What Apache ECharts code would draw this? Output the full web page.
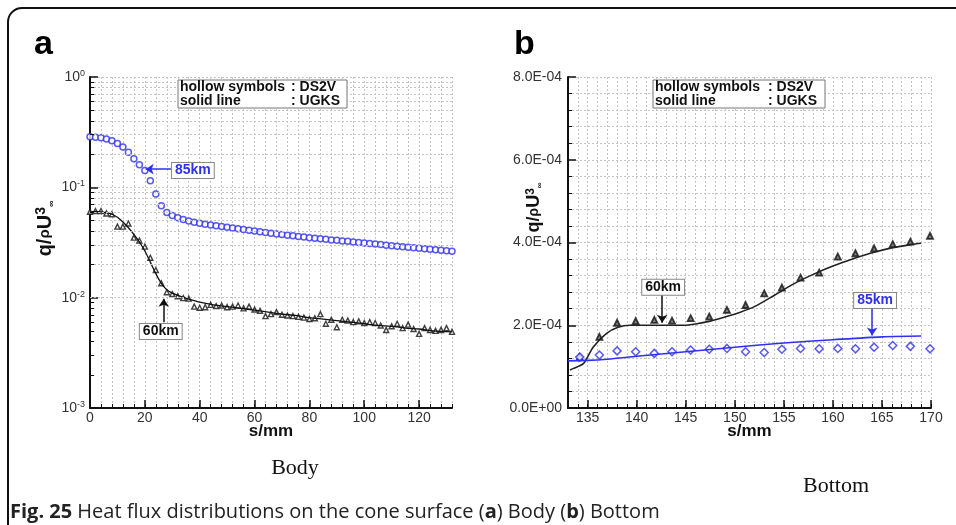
<!DOCTYPE html>
<html><head><meta charset="utf-8">
<script src="https://cdn.jsdelivr.net/npm/echarts@6/dist/echarts.min.js"></script>
<style>html,body{margin:0;padding:0;background:#fff}#c{width:956px;height:525px}</style>
</head><body><div id="c"></div>
<script>
// ---------- Panel (a) Body : s/mm and q/rhoU^3 (log) ----------
const bodyX = [0,2,4,6,8,10,12,14,16,18,20,22,24,26,28,30,32,34,36,38,40,42,44,46,48,50,52,54,56,58,60,62,64,66,68,70,72,74,76,78,80,82,84,86,88,90,92,94,96,98,100,102,104,106,108,110,112,114,116,118,120,122,124,126,128,130,132];
const body85DS2V = [0.287,0.285,0.281,0.274,0.264,0.250,0.232,0.208,0.182,0.160,0.142,0.115,0.087,0.068,0.059,0.0555,0.0530,0.0510,0.0495,0.0482,0.0472,0.0463,0.0456,0.0448,0.0441,0.0434,0.0427,0.0421,0.0414,0.0408,0.0402,0.0396,0.0389,0.0383,0.0378,0.0373,0.0368,0.0364,0.0359,0.0355,0.0350,0.0346,0.0342,0.0338,0.0334,0.0331,0.0327,0.0324,0.0320,0.0317,0.0313,0.0310,0.0306,0.0303,0.0299,0.0296,0.0292,0.0289,0.0286,0.0283,0.0280,0.0277,0.0274,0.0272,0.0269,0.0266,0.0263];
const body60DS2V = [0.060,0.061,0.061,0.058,0.057,0.044,0.044,0.047,0.035,0.033,0.029,0.023,0.0178,0.0135,0.0112,0.0108,0.0103,0.0099,0.0098,0.0083,0.0081,0.0082,0.0086,0.0084,0.0085,0.0082,0.0083,0.0085,0.0080,0.0083,0.0078,0.0076,0.0068,0.0071,0.0074,0.0070,0.0069,0.0068,0.0067,0.0066,0.0064,0.0065,0.0071,0.0058,0.0063,0.0054,0.0063,0.0062,0.0060,0.0061,0.0059,0.0060,0.0059,0.0056,0.0051,0.0055,0.0058,0.0053,0.0057,0.0052,0.0047,0.0053,0.0051,0.0050,0.0051,0.0053,0.0049];
const bodyLineX = [0,2,4,6,8,10,12,14,16,18,20,22,24,26,28,30,32,34,36,38,40,45,50,55,60,65,70,75,80,85,90,95,100,105,110,115,120,125,132];
const body60UGKS = [0.0600,0.0605,0.0600,0.0590,0.0570,0.0535,0.0485,0.0430,0.0375,0.0320,0.0265,0.0210,0.0165,0.0135,0.0118,0.0110,0.0105,0.0101,0.0097,0.0094,0.0091,0.0086,0.0083,0.0080,0.0077,0.0074,0.0071,0.0069,0.0066,0.0064,0.0062,0.0060,0.0058,0.0056,0.0055,0.0053,0.0052,0.0050,0.0049];
const bodyXTicks = [0,20,40,60,80,100,120];

// ---------- Panel (b) Bottom ----------
const bottomX = [134.2,136.2,138.0,139.9,141.8,143.6,145.5,147.4,149.2,151.1,153.0,154.8,156.7,158.6,160.5,162.3,164.2,166.1,167.9,169.9];
const bottom60DS2V = [1.23e-4,1.72e-4,2.06e-4,2.10e-4,2.13e-4,2.11e-4,2.17e-4,2.21e-4,2.37e-4,2.49e-4,2.77e-4,2.91e-4,3.15e-4,3.27e-4,3.66e-4,3.74e-4,3.86e-4,3.96e-4,4.02e-4,4.16e-4];
const bottom85DS2V = [1.23e-4,1.28e-4,1.38e-4,1.36e-4,1.32e-4,1.36e-4,1.40e-4,1.42e-4,1.44e-4,1.36e-4,1.34e-4,1.42e-4,1.44e-4,1.43e-4,1.44e-4,1.43e-4,1.47e-4,1.51e-4,1.49e-4,1.43e-4];
const bottom60LineX = [133.2,134.0,134.6,135.6,136.9,138.1,139.3,141,143,144.8,146,147.5,149,150.5,152,154,156,158,160,162,164,166,168,169];
const bottom60UGKS = [0.92e-4,1.00e-4,1.08e-4,1.48e-4,1.80e-4,1.95e-4,2.00e-4,2.00e-4,2.00e-4,2.00e-4,2.03e-4,2.10e-4,2.20e-4,2.31e-4,2.45e-4,2.72e-4,3.00e-4,3.23e-4,3.43e-4,3.60e-4,3.75e-4,3.87e-4,3.95e-4,3.98e-4];
const bottom85LineX = [133,135,137,140,145,150,155,160,165,169];
const bottom85UGKS = [1.14e-4,1.15e-4,1.18e-4,1.25e-4,1.36e-4,1.47e-4,1.57e-4,1.65e-4,1.72e-4,1.74e-4];
const bottomXTicks = [135,140,145,150,155,160,165,170];

const FONT = "'Liberation Sans', Arial, sans-serif";
const BLUE = '#3030f0';
const GRIDC = '#c4c4c4';
const zip = (xs, ys) => xs.map((x, i) => [x, ys[i]]);
const logMinor = [];
[0.001, 0.01, 0.1].forEach(d => { for (let k = 2; k <= 9; k++) logMinor.push(+(d * k).toPrecision(3)); });

function sci(v) {
  if (Math.abs(v) < 1e-12) return '0.0E+00';
  const e = Math.floor(Math.log10(v) + 1e-9);
  const m = v / Math.pow(10, e);
  return m.toFixed(1) + 'E-' + String(-e).padStart(2, '0');
}

const dashed = { show: true, lineStyle: { color: GRIDC, type: [2, 2], width: 1 } };
const tickLbl = { color: '#333', fontFamily: FONT, fontSize: 14 };
const axisNameStyle = { color: '#111', fontFamily: FONT, fontWeight: 'bold', fontSize: 17 };

const chart = echarts.init(document.getElementById('c'), null, { renderer: 'canvas' });

const option = {
  animation: false,
  backgroundColor: '#fff',
  grid: [
    { left: 90, top: 77, width: 362, height: 331, outerBoundsMode: 'none' },
    { left: 568, top: 77, width: 363, height: 331, outerBoundsMode: 'none' }
  ],
  xAxis: [
    { type: 'value', gridIndex: 0, position: 'bottom', min: 0, max: 132, interval: 4,
      axisLine: { show: true, lineStyle: { color: '#111', width: 2 } },
      axisTick: { show: true, inside: true, length: 4, lineStyle: { color: '#111' } },
      axisLabel: { show: false }, splitLine: dashed,
      name: 's/mm', nameLocation: 'middle', nameGap: 15, nameMoveOverlap: false, nameTextStyle: axisNameStyle },
    { type: 'value', gridIndex: 0, position: 'bottom', min: 0, max: 132,
      axisLine: { show: false },
      axisTick: { show: true, inside: true, length: 8, customValues: bodyXTicks, lineStyle: { color: '#111', width: 1.5 } },
      axisLabel: Object.assign({ show: true, margin: 3, customValues: bodyXTicks }, tickLbl),
      splitLine: { show: false } },
    { type: 'value', gridIndex: 1, position: 'bottom', min: 133, max: 170, interval: 1,
      axisLine: { show: true, lineStyle: { color: '#111', width: 2 } },
      axisTick: { show: true, inside: true, length: 4, lineStyle: { color: '#111' } },
      axisLabel: { show: false }, splitLine: dashed,
      name: 's/mm', nameLocation: 'middle', nameGap: 15, nameMoveOverlap: false, nameTextStyle: axisNameStyle },
    { type: 'value', gridIndex: 1, position: 'bottom', min: 133, max: 170,
      axisLine: { show: false },
      axisTick: { show: true, inside: true, length: 8, customValues: bottomXTicks, lineStyle: { color: '#111', width: 1.5 } },
      axisLabel: Object.assign({ show: true, margin: 3, customValues: bottomXTicks }, tickLbl),
      splitLine: { show: false } }
  ],
  yAxis: [
    { type: 'log', gridIndex: 0, position: 'left', min: 0.001, max: 1, logBase: 10,
      axisLine: { show: true, lineStyle: { color: '#111', width: 2 } },
      axisTick: { show: true, inside: true, length: 8, lineStyle: { color: '#111', width: 1.5 } },
      axisLabel: { color: '#333', fontFamily: FONT, fontSize: 14, margin: 5,
        formatter: v => '10{s|' + Math.round(Math.log10(v)) + '}',
        rich: { s: { fontSize: 9, fontFamily: FONT, color: '#333', verticalAlign: 'top', padding: [0, 0, 7, 0] } } },
      splitLine: dashed,
      name: 'q/{r|ρ}U{p|3}{b|∞}', nameLocation: 'middle', nameGap: 34, nameRotate: 90, nameMoveOverlap: false,
      nameTextStyle: Object.assign({}, axisNameStyle, { fontSize: 20, padding: [0, 0, 0, 28],
        rich: { r: { fontFamily: FONT, fontSize: 15, fontWeight: 'bold', color: '#111' },
                p: { fontFamily: FONT, fontSize: 14, fontWeight: 'bold', color: '#111', verticalAlign: 'top', padding: [0, 0, 8, 0] },
                b: { fontFamily: FONT, fontSize: 9, color: '#111', verticalAlign: 'bottom' } } }) },
    { type: 'value', gridIndex: 1, position: 'left', min: 0, max: 8e-4, interval: 2e-4,
      axisLine: { show: true, lineStyle: { color: '#111', width: 2 } },
      axisTick: { show: true, inside: true, length: 8, lineStyle: { color: '#111', width: 1.5 } },
      minorTick: { show: true, splitNumber: 5, length: 4, lineStyle: { color: '#111' } },
      axisLabel: Object.assign({ margin: 6, formatter: sci }, tickLbl),
      splitLine: dashed, minorSplitLine: dashed,
      name: 'q/{r|ρ}U{p|3}{b|∞}', nameLocation: 'middle', nameGap: 24, nameRotate: 90, nameMoveOverlap: false,
      nameTextStyle: Object.assign({}, axisNameStyle, { fontSize: 18, padding: [0, 0, 0, 70],
        rich: { r: { fontFamily: FONT, fontSize: 14, fontWeight: 'bold', color: '#111' },
                p: { fontFamily: FONT, fontSize: 12, fontWeight: 'bold', color: '#111', verticalAlign: 'top', padding: [0, 0, 7, 0] },
                b: { fontFamily: FONT, fontSize: 8, color: '#111', verticalAlign: 'bottom' } } }) }
  ],
  series: [
    // helper: log-axis minor grid lines and minor ticks (values placed by the axis)
    { type: 'line', xAxisIndex: 0, yAxisIndex: 0, data: [[0, 0.5]], showSymbol: false, symbolSize: 0,
      lineStyle: { opacity: 0 }, silent: true, z: 1,
      markLine: { silent: true, symbol: 'none', label: { show: false },
        data: logMinor.map(v => ({ yAxis: v, lineStyle: { color: GRIDC, type: [2, 2], width: 1 } }))
          .concat(logMinor.map(v => [{ coord: [0, v], lineStyle: { color: '#111', type: 'solid', width: 1 } }, { coord: [1.5, v] }])) } },
    { name: '85km DS2V', type: 'scatter', xAxisIndex: 0, yAxisIndex: 0, data: zip(bodyX, body85DS2V),
      symbol: 'circle', symbolSize: 6, itemStyle: { color: '#fff', borderColor: BLUE, borderWidth: 1.5 }, z: 3,
      markPoint: { silent: true, symbol: 'rect', symbolSize: [1, 1], itemStyle: { color: 'rgba(0,0,0,0)' },
        label: { show: true, position: 'inside', formatter: '85km', color: BLUE, fontFamily: FONT, fontWeight: 'bold', fontSize: 14,
          backgroundColor: '#fff', borderColor: '#888', borderWidth: 1, padding: [1, 3, 0, 3] },
        data: [{ coord: [37.5, 0.142] }] },
      markLine: { silent: true, symbol: ['none', 'arrow'], symbolSize: 8, label: { show: false },
        lineStyle: { color: BLUE, width: 1.5, type: 'solid' },
        data: [[{ coord: [29.8, 0.146] }, { coord: [20.3, 0.146] }]] } },
    { name: '60km DS2V', type: 'scatter', xAxisIndex: 0, yAxisIndex: 0, data: zip(bodyX, body60DS2V),
      symbol: 'triangle', symbolSize: 5, itemStyle: { color: '#fff', borderColor: '#111', borderWidth: 1.4 }, z: 3 },
    { name: '60km UGKS', type: 'line', xAxisIndex: 0, yAxisIndex: 0, data: zip(bodyLineX, body60UGKS),
      showSymbol: false, smooth: 0.3, lineStyle: { color: '#111', width: 1.3 }, z: 4,
      markPoint: { silent: true, symbol: 'rect', symbolSize: [1, 1], itemStyle: { color: 'rgba(0,0,0,0)' },
        label: { show: true, position: 'inside', formatter: '60km', color: '#111', fontFamily: FONT, fontWeight: 'bold', fontSize: 14,
          backgroundColor: '#fff', borderColor: '#888', borderWidth: 1, padding: [1, 3, 0, 3] },
        data: [{ coord: [25.8, 0.00493] }] },
      markLine: { silent: true, symbol: ['none', 'arrow'], symbolSize: 8, label: { show: false },
        lineStyle: { color: '#111', width: 1.5, type: 'solid' },
        data: [[{ coord: [26.9, 0.0060] }, { coord: [26.9, 0.0098] }]] } },

    { name: '60km DS2V b', type: 'scatter', xAxisIndex: 2, yAxisIndex: 1, data: zip(bottomX, bottom60DS2V),
      symbol: 'triangle', symbolSize: 6, itemStyle: { color: '#666', borderColor: '#111', borderWidth: 1.8 }, z: 3 },
    { name: '85km DS2V b', type: 'scatter', xAxisIndex: 2, yAxisIndex: 1, data: zip(bottomX, bottom85DS2V),
      symbol: 'diamond', symbolSize: 8, itemStyle: { color: '#fff', borderColor: BLUE, borderWidth: 1.5 }, z: 3 },
    { name: '60km UGKS b', type: 'line', xAxisIndex: 2, yAxisIndex: 1, data: zip(bottom60LineX, bottom60UGKS),
      showSymbol: false, smooth: 0.3, lineStyle: { color: '#222', width: 1.6 }, z: 4,
      markPoint: { silent: true, symbol: 'rect', symbolSize: [1, 1], itemStyle: { color: 'rgba(0,0,0,0)' },
        label: { show: true, position: 'inside', formatter: '60km', color: '#111', fontFamily: FONT, fontWeight: 'bold', fontSize: 14,
          backgroundColor: '#fff', borderColor: '#888', borderWidth: 1, padding: [1, 3, 0, 3] },
        data: [{ coord: [142.7, 2.92e-4] }] },
      markLine: { silent: true, symbol: ['none', 'arrow'], symbolSize: 8, label: { show: false },
        lineStyle: { color: '#111', width: 1.5, type: 'solid' },
        data: [[{ coord: [142.6, 2.73e-4] }, { coord: [142.6, 2.06e-4] }]] } },
    { name: '85km UGKS b', type: 'line', xAxisIndex: 2, yAxisIndex: 1, data: zip(bottom85LineX, bottom85UGKS),
      showSymbol: false, smooth: 0.3, lineStyle: { color: BLUE, width: 1.6 }, z: 4,
      markPoint: { silent: true, symbol: 'rect', symbolSize: [1, 1], itemStyle: { color: 'rgba(0,0,0,0)' },
        label: { show: true, position: 'inside', formatter: '85km', color: BLUE, fontFamily: FONT, fontWeight: 'bold', fontSize: 14,
          backgroundColor: '#fff', borderColor: '#888', borderWidth: 1, padding: [1, 3, 0, 3] },
        data: [{ coord: [164.3, 2.60e-4] }] },
      markLine: { silent: true, symbol: ['none', 'arrow'], symbolSize: 8, label: { show: false },
        lineStyle: { color: BLUE, width: 1.5, type: 'solid' },
        data: [[{ coord: [164.0, 2.42e-4] }, { coord: [164.0, 1.75e-4] }]] } }
  ],
  graphic: [
    { type: 'rect', shape: { x: 8, y: 8, width: 970, height: 540, r: 14 }, style: { fill: null, stroke: '#111', lineWidth: 2 }, silent: true, z: 50 },
    { type: 'text', left: 34, top: 28, style: { text: 'a', font: 'bold 34px ' + FONT, fill: '#000' }, z: 50 },
    { type: 'text', left: 514, top: 28, style: { text: 'b', font: 'bold 34px ' + FONT, fill: '#000' }, z: 50 },
    // legend boxes
    { type: 'group', z: 50, children: [
      { type: 'rect', shape: { x: 178, y: 80, width: 169, height: 28 }, style: { fill: '#fff', stroke: '#777', lineWidth: 1 }, z: 50 },
      { type: 'text', x: 180, y: 87, style: { text: 'hollow symbols', font: 'bold 14px ' + FONT, fill: '#111', verticalAlign: 'middle' }, z: 51 },
      { type: 'text', x: 291, y: 87, style: { text: ': DS2V', font: 'bold 14px ' + FONT, fill: '#111', verticalAlign: 'middle' }, z: 51 },
      { type: 'text', x: 180, y: 101, style: { text: 'solid line', font: 'bold 14px ' + FONT, fill: '#111', verticalAlign: 'middle' }, z: 51 },
      { type: 'text', x: 291, y: 101, style: { text: ': UGKS', font: 'bold 14px ' + FONT, fill: '#111', verticalAlign: 'middle' }, z: 51 },
      { type: 'rect', shape: { x: 653, y: 80, width: 172, height: 28 }, style: { fill: '#fff', stroke: '#777', lineWidth: 1 }, z: 50 },
      { type: 'text', x: 655, y: 87, style: { text: 'hollow symbols', font: 'bold 14px ' + FONT, fill: '#111', verticalAlign: 'middle' }, z: 51 },
      { type: 'text', x: 768, y: 87, style: { text: ': DS2V', font: 'bold 14px ' + FONT, fill: '#111', verticalAlign: 'middle' }, z: 51 },
      { type: 'text', x: 655, y: 101, style: { text: 'solid line', font: 'bold 14px ' + FONT, fill: '#111', verticalAlign: 'middle' }, z: 51 },
      { type: 'text', x: 768, y: 101, style: { text: ': UGKS', font: 'bold 14px ' + FONT, fill: '#111', verticalAlign: 'middle' }, z: 51 }
    ] },
    { type: 'text', x: 295, y: 468, style: { text: 'Body', font: '22px "Liberation Serif", "Times New Roman", serif', fill: '#111', align: 'center', verticalAlign: 'middle' }, z: 50 },
    { type: 'text', x: 836, y: 486, style: { text: 'Bottom', font: '22px "Liberation Serif", "Times New Roman", serif', fill: '#111', align: 'center', verticalAlign: 'middle' }, z: 50 },
    { type: 'text', x: 10, y: 512, z: 50, style: {
      text: '{b|Fig. 25} Heat flux distributions on the cone surface ({b|a}) Body ({b|b}) Bottom',
      font: '20px "Open Sans", ' + FONT, fill: '#222', verticalAlign: 'middle',
      rich: { b: { fontFamily: '"Open Sans", ' + FONT, fontSize: 20, fontWeight: 'bold', fill: '#222', color: '#222' } } } }
  ]
};
chart.setOption(option);
</script>
</body></html>
